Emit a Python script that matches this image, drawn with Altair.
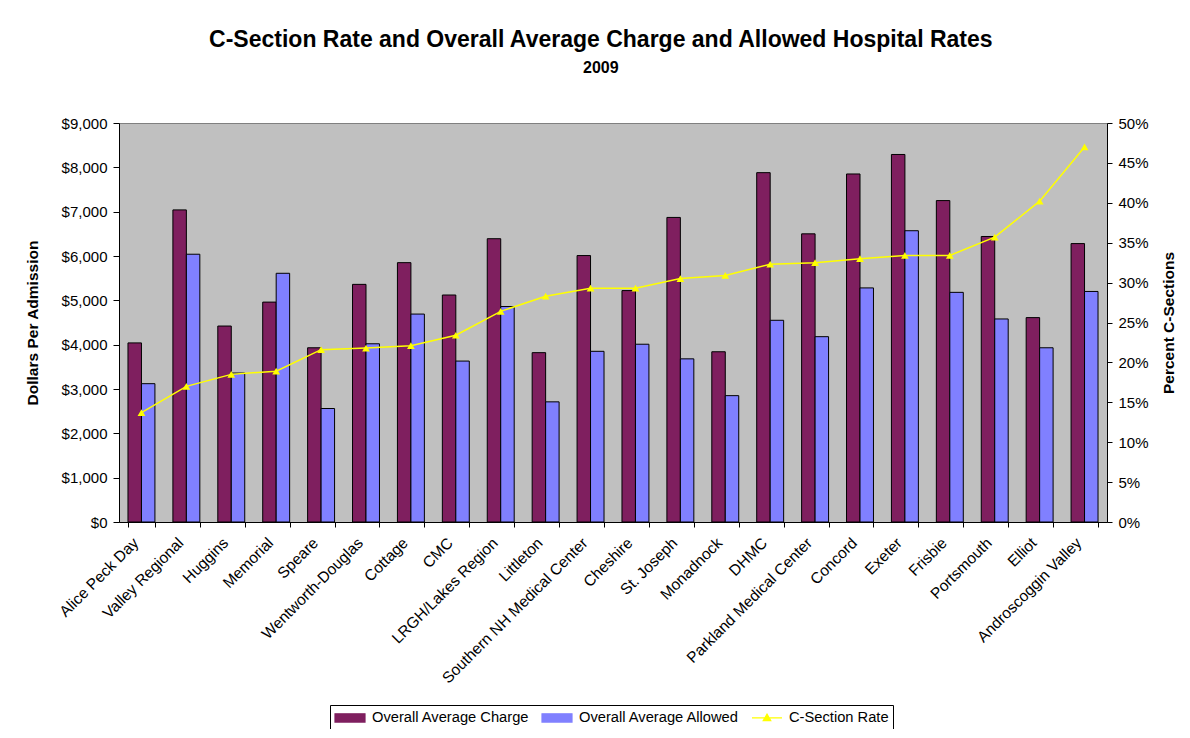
import altair as alt
import pandas as pd

hospitals = ["Alice Peck Day", "Valley Regional", "Huggins", "Memorial", "Speare",
             "Wentworth-Douglas", "Cottage", "CMC", "LRGH/Lakes Region", "Littleton",
             "Southern NH Medical Center", "Cheshire", "St. Joseph", "Monadnock", "DHMC",
             "Parkland Medical Center", "Concord", "Exeter", "Frisbie", "Portsmouth",
             "Elliot", "Androscoggin Valley"]
charge = [4040, 7040, 4420, 4960, 3930, 5360, 5850, 5120, 6390, 3820, 6010,
          5220, 6870, 3840, 7880, 6500, 7850, 8290, 7250, 6440, 4610, 6280]
allowed = [3120, 6040, 3360, 5610, 2560, 4020, 4690, 3630, 4860, 2710, 3850,
           4010, 3680, 2850, 4550, 4180, 5280, 6570, 5180, 4580, 3930, 5200]
csection_rate = [0.137, 0.170, 0.185, 0.189, 0.216, 0.218, 0.221, 0.234, 0.264, 0.283, 0.293,
                 0.293, 0.305, 0.309, 0.323, 0.325, 0.330, 0.334, 0.334, 0.357, 0.402, 0.470]
series_names = ["Overall Average Charge", "Overall Average Allowed", "C-Section Rate"]
series_colors = ["#7F1F5F", "#8080FF", "#FFFF00"]
dollar_ticks = [0, 1000, 2000, 3000, 4000, 5000, 6000, 7000, 8000, 9000]
percent_ticks = [0.0, 0.05, 0.10, 0.15, 0.20, 0.25, 0.30, 0.35, 0.40, 0.45, 0.50]

n = len(hospitals)
bars_df = pd.DataFrame({
    "hospital": hospitals * 2,
    "series": [series_names[0]] * n + [series_names[1]] * n,
    "value": charge + allowed,
})
line_df = pd.DataFrame({
    "hospital": hospitals,
    "series": [series_names[2]] * n,
    "rate": csection_rate,
})

FONT = "Liberation Sans"

x_enc = alt.X(
    "hospital:N", sort=hospitals, title=None,
    scale=alt.Scale(paddingInner=0.4, paddingOuter=0.2),
    axis=alt.Axis(labelAngle=-45, labelAlign="right", labelBaseline="middle",
                  tickBand="extent", tickSize=5, labelPadding=13, labelOffset=-6,
                  domainColor="black", tickColor="black", labelColor="black",
                  labelFontSize=15.5, labelFont=FONT, labelLimit=400),
)

is_line = "datum.value === 'C-Section Rate'"
legend = alt.Legend(
    title=None, orient="none", legendX=211, legendY=582, direction="horizontal",
    strokeColor="black", fillColor="white", padding=4, columnPadding=9,
    labelFontSize=14.7, labelFont=FONT, labelColor="black", labelOffset=21,
    labelLimit=400, symbolSize=225,
    symbolType=alt.ExprRef(expr=is_line + " ? 'M-1,0H3M1,-0.5L1.5,0.35L0.5,0.35Z' : 'M-1,-0.55H3V0.55H-1Z'"),
    symbolStrokeColor=alt.ExprRef(expr=is_line + " ? '#FFFF00' : 'black'"),
    symbolStrokeWidth=1.2,
)
color = alt.Color("series:N", scale=alt.Scale(domain=series_names, range=series_colors), legend=legend)

bars = alt.Chart(bars_df).mark_bar(stroke="black", strokeWidth=1).encode(
    x=x_enc,
    xOffset=alt.XOffset("series:N", sort=series_names[:2],
                        scale=alt.Scale(paddingInner=0, paddingOuter=0)),
    y=alt.Y("value:Q", scale=alt.Scale(domain=[0, 9000], nice=False),
            axis=alt.Axis(values=dollar_ticks, format="$,.0f", title="Dollars Per Admission",
                          orient="left", grid=False, tickSize=6, labelPadding=6,
                          domainColor="black", tickColor="black", labelColor="black",
                          labelFontSize=15, labelFont=FONT, titleFont=FONT,
                          titleFontSize=15.5, titleFontWeight="bold", titleColor="black",
                          titlePadding=21)),
    color=color,
)

line = alt.Chart(line_df).mark_line(
    strokeWidth=1.5,
    point=alt.OverlayMarkDef(shape="triangle-up", filled=True, size=60, opacity=1),
).encode(
    x=x_enc,
    y=alt.Y("rate:Q", scale=alt.Scale(domain=[0, 0.5], nice=False),
            axis=alt.Axis(values=percent_ticks, format=".0%", title="Percent C-Sections",
                          orient="right", grid=False, tickSize=5, labelPadding=6,
                          domainColor="black", tickColor="black", labelColor="black",
                          labelFontSize=15, labelFont=FONT, titleFont=FONT,
                          titleFontSize=15.5, titleFontWeight="bold", titleColor="black",
                          titleAngle=270, titleBaseline="bottom", titlePadding=28)),
    color=color,
)

chart = alt.layer(bars, line).resolve_scale(y="independent").properties(
    width=988, height=399,
    background="white",
    title=alt.TitleParams(
        text="C-Section Rate and Overall Average Charge and Allowed Hospital Rates",
        subtitle="2009", anchor="middle", frame="bounds", offset=40,
        font=FONT, fontSize=23, fontWeight="bold", color="black",
        subtitleFont=FONT, subtitleFontSize=16, subtitleFontWeight="bold",
        subtitleColor="black", subtitlePadding=8,
    ),
    autosize=alt.AutoSizeParams(type="none"),
    padding={"left": 111, "top": 115, "right": 75, "bottom": 207},
).configure_view(fill="#C0C0C0", stroke="#808080", strokeWidth=1)

chart.save("out.html", embed_options={"renderer": "svg", "actions": False})
